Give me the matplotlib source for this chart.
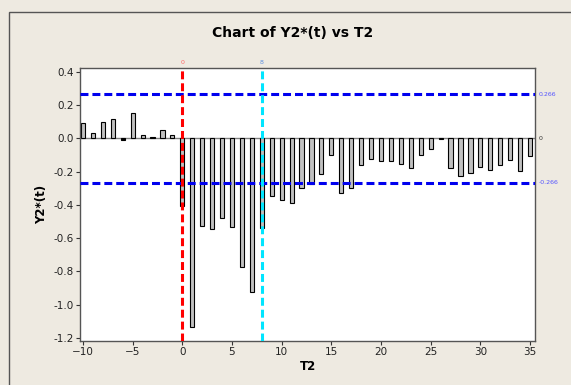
import matplotlib
matplotlib.use("Agg")
import matplotlib.pyplot as plt
from matplotlib.patches import Rectangle
from matplotlib.ticker import FormatStrFormatter

# Lags and the standardized series values
t2 = list(range(-10, 36))
y2 = [0.092, 0.030, 0.096, 0.116, -0.010, 0.150, 0.020, 0.008, 0.048, 0.020,
      -0.407, -1.132, -0.527, -0.545, -0.479, -0.533, -0.774, -0.924, -0.541, -0.347,
      -0.373, -0.391, -0.299, -0.277, -0.216, -0.102, -0.329, -0.299, -0.162, -0.126,
      -0.138, -0.138, -0.152, -0.176, -0.102, -0.066, -0.005, -0.180, -0.228, -0.210,
      -0.174, -0.192, -0.162, -0.132, -0.198, -0.108]

limit = 0.266
ref_x = [0, 8]
ref_x_labels = ["0", "8"]
ref_x_colors = ["#ff0000", "#00e5ff"]
ref_x_label_colors = ["#ff6666", "#5b8fe0"]

x_ticks = list(range(-10, 36, 5))
y_ticks = [0.4, 0.2, 0.0, -0.2, -0.4, -0.6, -0.8, -1.0, -1.2]

bg = "#eeeae1"
fig = plt.figure(figsize=(5.71, 3.85), dpi=100, facecolor=bg)
fig.patches.append(Rectangle((9 / 571, -0.05), 1.2, 1 - 12 / 385 + 0.05,
                             transform=fig.transFigure, fill=False,
                             edgecolor="#555555", linewidth=1.0))

ax = fig.add_axes([80 / 571, 1 - 340.7 / 385, 455 / 571, 272.4 / 385])
ax.set_facecolor("white")

ax.axhline(0, color="#808080", linewidth=1.0, zorder=1)

bar_colors = ["#c0c0c0" if abs(v) > 0.012 else "#000000" for v in y2]
ax.bar(t2, y2, width=0.42, color=bar_colors, edgecolor="black",
       linewidth=0.8, zorder=2)

for yv in (limit, -limit):
    ax.axhline(yv, color="#0000ee", linewidth=2.2, linestyle=(0, (2.6, 1.3)), zorder=3)
for xv, c in zip(ref_x, ref_x_colors):
    ax.axvline(xv, color=c, linewidth=2.2, linestyle=(0, (2.6, 1.3)), zorder=3)

ax.set_xlim(-10.3, 35.5)
ax.set_ylim(-1.217, 0.421)
ax.set_xticks(x_ticks)
ax.set_yticks(y_ticks)
ax.yaxis.set_major_formatter(FormatStrFormatter("%.1f"))
ax.tick_params(axis="both", direction="out", length=3, width=0.8,
               labelsize=7.5, colors="#333333", labelcolor="#222222", pad=1.5)
for s in ax.spines.values():
    s.set_color("#555555")
    s.set_linewidth(1.0)

# Labels for reference lines
lab_tr = ax.get_yaxis_transform()
for yv, txt in ((limit, "0.266"), (0, "0"), (-limit, "-0.266")):
    ax.text(1.008, yv, txt, transform=lab_tr, fontsize=4.5, va="center",
            ha="left", color="#5555ff" if yv != 0 else "#333333", clip_on=False)
xlab_tr = ax.get_xaxis_transform()
for xv, txt, c in zip(ref_x, ref_x_labels, ref_x_label_colors):
    ax.text(xv, 1.012, txt, transform=xlab_tr, fontsize=4.5, ha="center",
            va="bottom", color=c, clip_on=False)

ax.set_xlabel("T2", fontsize=8.5, fontweight="bold", labelpad=2)
ax.set_ylabel("Y2*(t)", fontsize=8.5, fontweight="bold", labelpad=4)
fig.text(293 / 571, 1 - 33 / 385, "Chart of Y2*(t) vs T2", fontsize=10,
         fontweight="bold", ha="center", va="center")

fig.savefig("out.png", dpi=100, facecolor=bg)
